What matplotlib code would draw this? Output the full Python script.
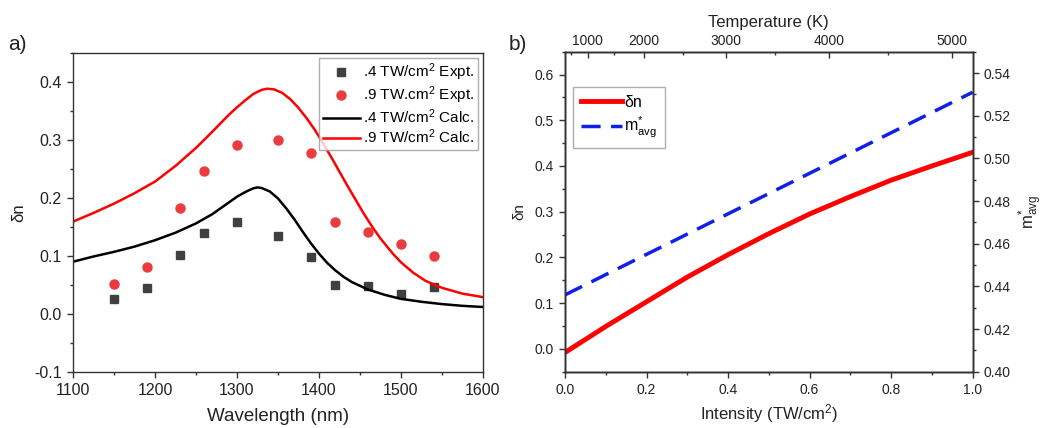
import matplotlib
matplotlib.use("Agg")
import matplotlib.pyplot as plt
from matplotlib.ticker import MultipleLocator, FixedLocator, FormatStrFormatter

plt.rcParams['font.family'] = ['Liberation Sans', 'DejaVu Sans']
plt.rcParams['mathtext.fontset'] = 'custom'
plt.rcParams['mathtext.rm'] = 'Liberation Sans'
plt.rcParams['mathtext.it'] = 'Liberation Sans:italic'
plt.rcParams['axes.unicode_minus'] = False

# ---- panel a: refractive index change vs wavelength ----
wl_expt = [1150, 1190, 1230, 1260, 1300, 1350, 1390, 1420, 1460, 1500, 1540]
dn_expt_04 = [0.026, 0.045, 0.102, 0.139, 0.159, 0.135, 0.098, 0.050, 0.049, 0.034, 0.047]
dn_expt_09 = [0.052, 0.081, 0.182, 0.247, 0.291, 0.300, 0.277, 0.159, 0.141, 0.120, 0.100]

wl_calc_04 = [1100, 1125, 1150, 1175, 1200, 1225, 1250, 1270, 1290, 1300, 1310, 1320,
              1325, 1330, 1340, 1350, 1360, 1370, 1380, 1390, 1400, 1410, 1420, 1430,
              1440, 1460, 1480, 1500, 1525, 1550, 1575, 1600]
dn_calc_04 = [0.090, 0.099, 0.107, 0.116, 0.127, 0.140, 0.156, 0.172, 0.192, 0.202, 0.210, 0.2165,
              0.218, 0.217, 0.211, 0.199, 0.182, 0.163, 0.142, 0.122, 0.104, 0.088, 0.075, 0.064,
              0.055, 0.042, 0.033, 0.026, 0.021, 0.017, 0.014, 0.012]

wl_calc_09 = [1100, 1125, 1150, 1175, 1200, 1225, 1250, 1270, 1290, 1300, 1310, 1320,
              1330, 1337, 1345, 1355, 1365, 1375, 1385, 1395, 1405, 1415, 1425, 1435,
              1445, 1455, 1465, 1475, 1490, 1500, 1515, 1530, 1550, 1575, 1600]
dn_calc_09 = [0.159, 0.174, 0.190, 0.208, 0.228, 0.255, 0.286, 0.314, 0.343, 0.356, 0.368, 0.379,
              0.386, 0.388, 0.387, 0.381, 0.370, 0.355, 0.337, 0.317, 0.294, 0.270, 0.245, 0.220,
              0.196, 0.172, 0.150, 0.130, 0.104, 0.089, 0.071, 0.057, 0.045, 0.035, 0.029]

# ---- panel b: dn and average effective mass vs intensity ----
intensity = [0.0, 0.1, 0.2, 0.3, 0.4, 0.5, 0.6, 0.7, 0.8, 0.9, 1.0]
dn_int = [-0.008, 0.049, 0.103, 0.157, 0.206, 0.252, 0.295, 0.333, 0.369, 0.400, 0.430]
intensity_m = [0.0, 0.2, 0.4, 0.6, 0.8, 1.0]
m_avg = [0.436, 0.455, 0.474, 0.493, 0.512, 0.531]

# temperature scale on top axis (labels and where they sit in intensity units)
temp_labels = ['1000', '2000', '3000', '4000', '5000']
temp_major_pos = [0.0557, 0.1945, 0.394, 0.6475, 0.9485]
temp_minor_pos = [0.0147, 0.1194, 0.2894, 0.515, 0.7915]

TXT = '#222222'
SPINE = '#333333'

fig = plt.figure(figsize=(10.47, 4.28), dpi=100)
ax1 = fig.add_axes([0.0697, 0.1308, 0.3916, 0.746])
ax2 = fig.add_axes([0.5396, 0.1315, 0.3894, 0.7477])


def style_ticks(ax, size):
    ax.tick_params(which='both', colors=SPINE, labelcolor=TXT, labelsize=size)
    ax.tick_params(which='major', length=4.5, width=1)
    ax.tick_params(which='minor', length=2.5, width=1)
    for s in ax.spines.values():
        s.set_color(SPINE)
        s.set_linewidth(1.0)


# --- a) ---
ax1.plot(wl_expt, dn_expt_04, 's', color='#404040', ms=6, label='.4 TW/cm$^2$ Expt.')
ax1.plot(wl_expt, dn_expt_09, 'o', color='#ec3b3f', ms=6.5, label='.9 TW.cm$^2$ Expt.')
ax1.plot(wl_calc_04, dn_calc_04, '-', color='black', lw=1.8, label='.4 TW/cm$^2$ Calc.')
ax1.plot(wl_calc_09, dn_calc_09, '-', color='red', lw=1.8, label='.9 TW/cm$^2$ Calc.')
ax1.set_xlim(1100, 1600)
ax1.set_ylim(-0.1, 0.45)
ax1.xaxis.set_major_locator(MultipleLocator(100))
ax1.xaxis.set_minor_locator(MultipleLocator(50))
ax1.yaxis.set_major_locator(MultipleLocator(0.1))
ax1.yaxis.set_minor_locator(MultipleLocator(0.05))
ax1.tick_params(which='both', direction='out')
style_ticks(ax1, 11.5)
ax1.set_xlabel('Wavelength (nm)', fontsize=13.5, color=TXT, labelpad=7)
ax1.set_ylabel('δn', fontsize=12, color=TXT, labelpad=6)
leg1 = ax1.legend(loc='upper right', fontsize=11, frameon=True, fancybox=False,
                  edgecolor='#999999', handlelength=2.4, handletextpad=0.2,
                  borderpad=0.25, labelspacing=0.08, borderaxespad=0.35)
leg1.get_frame().set_linewidth(1.0)

# --- b) ---
ln1, = ax2.plot(intensity, dn_int, '-', color='red', lw=3.5, label='δn')
ax2.set_xlim(0, 1.0)
ax2.set_ylim(-0.05, 0.65)
ax2.xaxis.set_major_locator(MultipleLocator(0.2))
ax2.xaxis.set_minor_locator(MultipleLocator(0.1))
ax2.yaxis.set_major_locator(MultipleLocator(0.1))
ax2.yaxis.set_minor_locator(MultipleLocator(0.05))
ax2.tick_params(which='both', direction='out')
style_ticks(ax2, 10)
ax2.set_xlabel('Intensity (TW/cm$^2$)', fontsize=12, color=TXT, labelpad=4)
ax2.set_ylabel('δn', fontsize=11, color=TXT, labelpad=6)

ax2r = ax2.twinx()
ln2, = ax2r.plot(intensity_m, m_avg, '--', color='#1020e8', lw=2.5, dashes=(5.5, 3),
                 label='m$^{*}_{\\rm avg}$')
ax2r.set_ylim(0.40, 0.55)
ax2r.yaxis.set_major_locator(MultipleLocator(0.02))
ax2r.yaxis.set_minor_locator(MultipleLocator(0.01))
ax2r.yaxis.set_major_formatter(FormatStrFormatter('%.2f'))
ax2r.tick_params(which='both', direction='out')
style_ticks(ax2r, 10)
ax2r.set_ylabel('m$^{*}_{\\rm avg}$', fontsize=12, color=TXT, rotation=90, labelpad=4)

ax2t = ax2.twiny()
ax2t.set_xlim(0, 1.0)
ax2t.xaxis.set_major_locator(FixedLocator(temp_major_pos))
ax2t.xaxis.set_minor_locator(FixedLocator(temp_minor_pos))
ax2t.set_xticklabels(temp_labels)
ax2t.tick_params(which='both', direction='in', pad=3)
style_ticks(ax2t, 10)
ax2t.set_xlabel('Temperature (K)', fontsize=12, color=TXT, labelpad=5)

leg2 = ax2.legend(handles=[ln1, ln2], loc='upper left', bbox_to_anchor=(0.0, 0.915),
                  fontsize=11.5, frameon=True, fancybox=False, edgecolor='#999999',
                  handlelength=2.6, handletextpad=0.1, borderpad=0.5, labelspacing=0.3)
leg2.get_frame().set_linewidth(1.0)

fig.text(0.008, 0.895, 'a)', fontsize=15, color=TXT, va='center')
fig.text(0.486, 0.895, 'b)', fontsize=15, color=TXT, va='center')

fig.savefig('out.png', dpi=100, facecolor='white')
